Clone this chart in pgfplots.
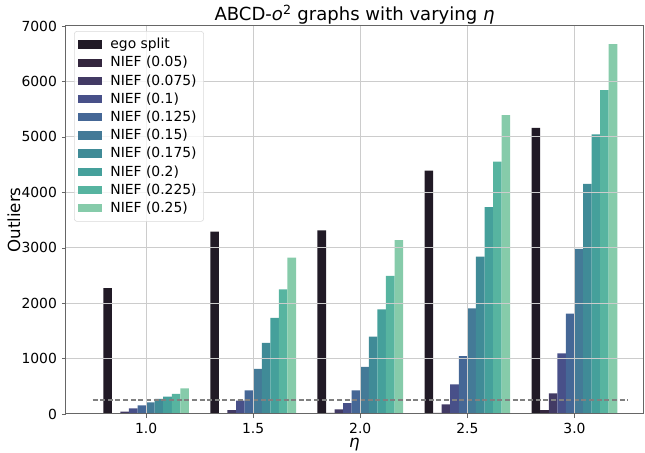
\documentclass[border=0pt]{standalone}
\usepackage{fontspec}
\setmainfont{DejaVu Sans}
\usepackage{pgfplots}
\pgfplotsset{compat=1.18}

% seaborn mako-like colours, one per series
\definecolor{c0}{HTML}{211A26}
\definecolor{c1}{HTML}{34263E}
\definecolor{c2}{HTML}{423A64}
\definecolor{c3}{HTML}{485089}
\definecolor{c4}{HTML}{456796}
\definecolor{c5}{HTML}{447A97}
\definecolor{c6}{HTML}{408B97}
\definecolor{c7}{HTML}{45A09B}
\definecolor{c8}{HTML}{57B4A0}
\definecolor{c9}{HTML}{86CBAA}

\pgfplotsset{
  mybar/.style n args={2}{ybar, bar width=0.04, bar shift=#2, draw=none, fill=#1,
    legend image code/.code={\fill[#1, sharp corners, fill opacity=1] (0pt,-3pt) rectangle (17pt,3pt);}},
}

\begin{document}
\begin{tikzpicture}
  \path[use as bounding box] (-47.52pt,-28.08pt) rectangle (416.88pt,298.08pt);
  \begin{axis}[
    at={(0,0)}, anchor=south west,
    scale only axis,
    width=415.44pt, height=279.36pt,
    xmin=0.626, xmax=3.32,
    ymin=0, ymax=7000,
    xtick={1.0,1.5,2.0,2.5,3.0},
    ytick={0,1000,...,7000},
    xticklabel style={/pgf/number format/.cd, fixed, fixed zerofill, precision=1},
    yticklabel style={/pgf/number format/.cd, fixed, set thousands separator={}},
    /pgf/number format/assume math mode=true,
    tick label style={font=\fontsize{10}{12}\selectfont},
    tick align=outside, tick pos=left,
    major tick length=3pt,
    tick style={black!60},
    grid=major,
    major grid style={black!20, line width=0.72pt},
    axis line style={black!60, line width=0.72pt},
    axis on top,
    title={ABCD-\textit{o}\textsuperscript{2} graphs with varying \textit{η}},
    % the default title style adds yshift=6pt; cancel it
    title style={font=\fontsize{13}{15}\selectfont, at={(axis description cs:0.5,1.013)}, anchor=base, yshift=-6pt, inner sep=0pt},
    xlabel={\textit{η}},
    xlabel style={font=\fontsize{12}{14}\selectfont, at={(axis description cs:0.5,-0.086)}, anchor=base, inner sep=0pt},
    ylabel={Outliers},
    ylabel style={font=\fontsize{12}{14}\selectfont},
    ylabel shift=-6pt,
    legend cell align=left,
    legend style={at={(0.0139,0.987)}, anchor=north west,
      font=\fontsize{10}{12}\selectfont,
      draw=black!15, rounded corners=2pt, fill=white, fill opacity=0.8, text opacity=1,
      row sep=0pt, column sep=4pt, inner sep=3pt},
  ]
    \addplot[mybar={c0}{-0.18}] coordinates {(1.0,2270) (1.5,3290) (2.0,3313) (2.5,4390) (3.0,5160)};
    \addlegendentry{ego split}
    \addplot[mybar={c1}{-0.14}] coordinates {(1.0,10) (1.5,10) (2.0,20) (2.5,18) (3.0,72)};
    \addlegendentry{NIEF (0.05)}
    \addplot[mybar={c2}{-0.10}] coordinates {(1.0,42) (1.5,72) (2.0,84) (2.5,174) (3.0,373)};
    \addlegendentry{NIEF (0.075)}
    \addplot[mybar={c3}{-0.06}] coordinates {(1.0,102) (1.5,241) (2.0,198) (2.5,535) (3.0,1095)};
    \addlegendentry{NIEF (0.1)}
    \addplot[mybar={c4}{-0.02}] coordinates {(1.0,156) (1.5,427) (2.0,427) (2.5,1046) (3.0,1810)};
    \addlegendentry{NIEF (0.125)}
    \addplot[mybar={c5}{0.02}] coordinates {(1.0,210) (1.5,812) (2.0,848) (2.5,1906) (3.0,2977)};
    \addlegendentry{NIEF (0.15)}
    \addplot[mybar={c6}{0.06}] coordinates {(1.0,271) (1.5,1281) (2.0,1395) (2.5,2838) (3.0,4150)};
    \addlegendentry{NIEF (0.175)}
    \addplot[mybar={c7}{0.10}] coordinates {(1.0,313) (1.5,1732) (2.0,1889) (2.5,3734) (3.0,5045)};
    \addlegendentry{NIEF (0.2)}
    \addplot[mybar={c8}{0.14}] coordinates {(1.0,361) (1.5,2249) (2.0,2490) (2.5,4552) (3.0,5845)};
    \addlegendentry{NIEF (0.225)}
    \addplot[mybar={c9}{0.18}] coordinates {(1.0,463) (1.5,2820) (2.0,3139) (2.5,5394) (3.0,6675)};
    \addlegendentry{NIEF (0.25)}
    % reference level
    \addplot[forget plot, gray, line width=1.1pt, dash pattern=on 3.6pt off 1.9pt]
      coordinates {(0.75,253) (3.25,253)};
  \end{axis}
\end{tikzpicture}
\end{document}
